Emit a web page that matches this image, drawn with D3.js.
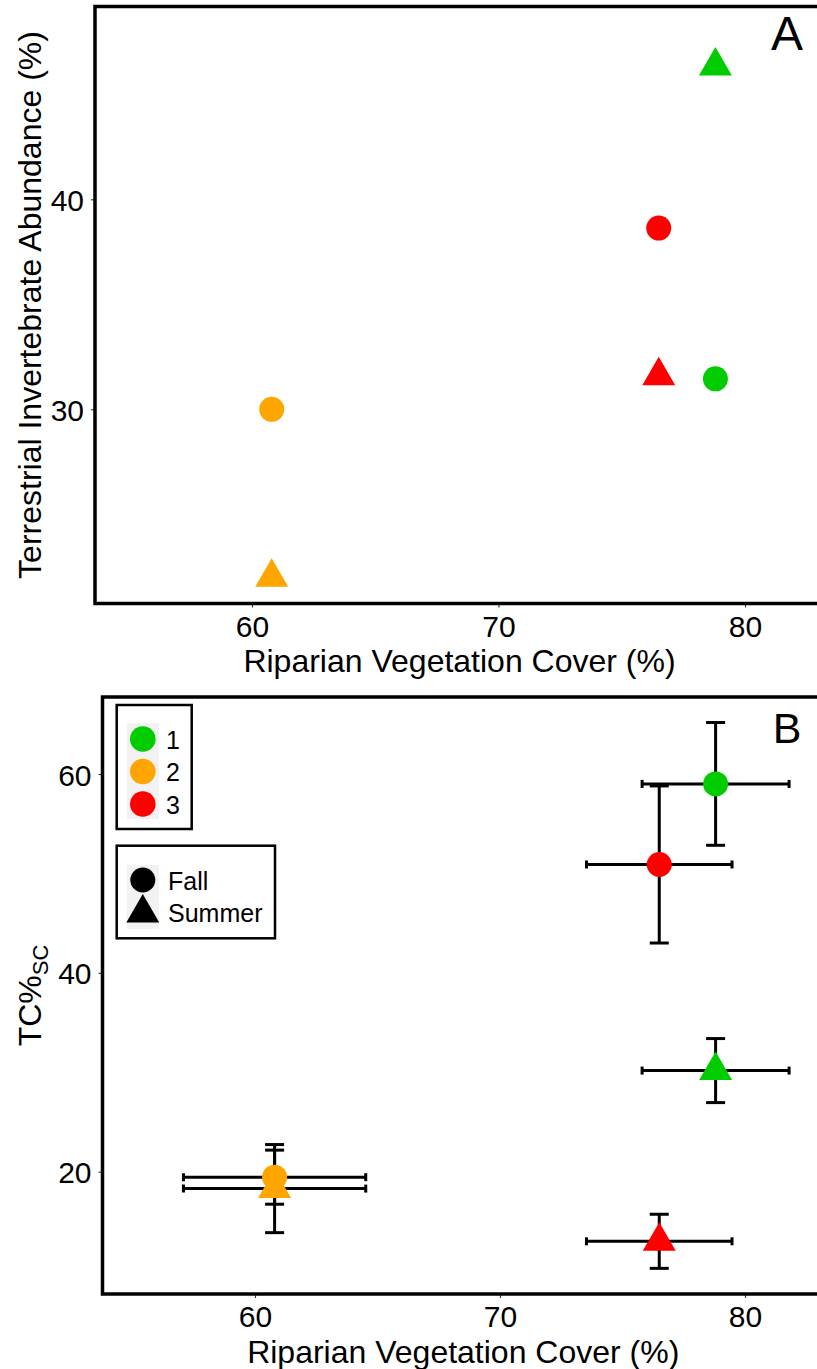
<!DOCTYPE html>
<html>
<head>
<meta charset="utf-8">
<script src="https://cdn.jsdelivr.net/npm/d3@7"></script>
<style>
  html, body { margin: 0; padding: 0; background: #fff; }
  svg { display: block; }
  text { font-family: "Liberation Sans", Arial, sans-serif; }
</style>
</head>
<body>
<script>
// ---------- data ----------
const sites = ["1", "2", "3"];
const siteColors = ["#00CC00", "#FFA500", "#FF0000"];
const seasons = ["Fall", "Summer"];

const pointSite   = ["1", "1", "2", "2", "3", "3"];
const pointSeason = ["Fall", "Summer", "Fall", "Summer", "Fall", "Summer"];
const vegCover    = [78.8, 78.8, 60.8, 60.8, 76.5, 76.5];
const vegCoverSD  = [3.0, 3.0, 3.72, 3.72, 2.97, 2.97];

// Panel A: terrestrial invertebrate abundance (%)
const terrAbund = [31.45, 46.35, 30.0, 22.0, 38.63, 31.6];

// Panel B: TC%SC with SD
const tcSC   = [59.0, 30.17, 19.45, 18.3, 50.9, 13.0];
const tcSCSD = [6.17, 3.22, 2.72, 4.43, 7.9, 2.72];

const xTicks = [60, 70, 80];
const yTicksA = [30, 40];
const yTicksB = [20, 40, 60];

// ---------- setup ----------
const W = 817, H = 1369;
const svg = d3.select("body").append("svg").attr("width", W).attr("height", H);
svg.append("rect").attr("width", W).attr("height", H).attr("fill", "#fff");

const color = d3.scaleOrdinal().domain(sites).range(siteColors);
const triPath = d3.symbol().type(d3.symbolTriangle).size(470)();
const font = "Liberation Sans, Arial, sans-serif";

const rows = pointSite.map((s, i) => ({
  site: s, season: pointSeason[i], veg: vegCover[i], vegSD: vegCoverSD[i],
  abund: terrAbund[i], tc: tcSC[i], tcSD: tcSCSD[i]
}));

function drawPanel(cfg) {
  const g = svg.append("g");
  const x = d3.scaleLinear().domain([60, 80]).range(cfg.xRange);
  const y = d3.scaleLinear().domain(cfg.yDomain).range(cfg.yRange);
  const left = cfg.left, top = cfg.top, bottom = cfg.bottom, right = 840;

  // axes
  const ax = g.append("g").attr("transform", `translate(0,${bottom})`)
    .call(d3.axisBottom(x).tickValues(xTicks).tickSize(4).tickPadding(8));
  const ay = g.append("g").attr("transform", `translate(${left},0)`)
    .call(d3.axisLeft(y).tickValues(cfg.yTicks).tickSize(4).tickPadding(7));
  [ax, ay].forEach(a => {
    a.select(".domain").remove();
    a.selectAll(".tick line").attr("stroke", "#333").attr("stroke-width", 1.1);
    a.selectAll(".tick text").attr("fill", "#000").attr("font-size", 30).attr("font-family", font);
  });
  ay.selectAll(".tick text").attr("dy", "0.37em");

  // clip
  const clipId = "clip" + cfg.name;
  svg.append("clipPath").attr("id", clipId).append("rect")
    .attr("x", left).attr("y", top).attr("width", right - left).attr("height", bottom - top);
  const plot = g.append("g").attr("clip-path", `url(#${clipId})`);

  if (cfg.errors) {
    const eb = plot.append("g").attr("stroke", "#000").attr("stroke-width", 3).attr("fill", "none");
    rows.forEach(d => {
      const cx = x(d.veg), cy = y(cfg.yv(d));
      const y0 = y(d.tc - d.tcSD), y1 = y(d.tc + d.tcSD);
      const x0 = x(d.veg - d.vegSD), x1 = x(d.veg + d.vegSD);
      eb.append("line").attr("x1", cx).attr("x2", cx).attr("y1", y0).attr("y2", y1);
      eb.append("line").attr("x1", cx - 9.5).attr("x2", cx + 9.5).attr("y1", y0).attr("y2", y0);
      eb.append("line").attr("x1", cx - 9.5).attr("x2", cx + 9.5).attr("y1", y1).attr("y2", y1);
      eb.append("line").attr("x1", x0).attr("x2", x1).attr("y1", cy).attr("y2", cy);
      eb.append("line").attr("x1", x0).attr("x2", x0).attr("y1", cy - 4).attr("y2", cy + 4);
      eb.append("line").attr("x1", x1).attr("x2", x1).attr("y1", cy - 4).attr("y2", cy + 4);
    });
  }

  // points
  rows.forEach(d => {
    const cx = x(d.veg), cy = y(cfg.yv(d));
    if (d.season === "Fall") {
      plot.append("circle").attr("cx", cx).attr("cy", cy).attr("r", 12.5).attr("fill", color(d.site));
    } else {
      plot.append("path").attr("d", triPath).attr("transform", `translate(${cx},${cy})`).attr("fill", color(d.site));
    }
  });

  // border
  g.append("rect").attr("x", left).attr("y", top).attr("width", right - left).attr("height", bottom - top)
    .attr("fill", "none").attr("stroke", "#000").attr("stroke-width", 3.5);

  // panel letter
  g.append("text").attr("x", 787).attr("y", cfg.letterY).attr("text-anchor", "middle")
    .attr("font-size", cfg.letterSize).attr("fill", "#000").text(cfg.name);

  // x title
  g.append("text").attr("x", (left + 824) / 2).attr("y", bottom + 68.5).attr("text-anchor", "middle")
    .attr("font-size", 32).attr("fill", "#000").text("Riparian Vegetation Cover (%)");

  // y title
  const yt = g.append("text").attr("transform", `translate(41,${(top + bottom) / 2}) rotate(-90)`)
    .attr("text-anchor", "middle").attr("font-size", 32).attr("fill", "#000");
  cfg.yTitle(yt);
  return { x, y };
}

drawPanel({
  name: "A", left: 95, top: 6.5, bottom: 603.5,
  xRange: [252, 745], yDomain: [30, 40], yRange: [409.3, 199.3], yTicks: yTicksA,
  yv: d => d.abund, errors: false, letterY: 50, letterSize: 48,
  yTitle: t => t.text("Terrestrial Invertebrate Abundance (%)")
});

drawPanel({
  name: "B", left: 102.5, top: 697, bottom: 1294,
  xRange: [255, 745], yDomain: [20, 60], yRange: [1171.7, 774], yTicks: yTicksB,
  yv: d => d.tc, errors: true, letterY: 743, letterSize: 43,
  yTitle: t => {
    t.append("tspan").text("TC%");
    t.append("tspan").attr("font-size", 22).attr("dy", 7).text("SC");
  }
});

// ---------- legends (panel B) ----------
const leg1 = svg.append("g");
leg1.append("rect").attr("x", 116.7).attr("y", 705).attr("width", 75).attr("height", 124)
  .attr("fill", "#fff").attr("stroke", "#000").attr("stroke-width", 2.5);
leg1.append("rect").attr("x", 126.7).attr("y", 723).attr("width", 32.3).attr("height", 96).attr("fill", "#F2F2F2");
sites.forEach((s, i) => {
  const cy = 739 + i * 32.5;
  leg1.append("circle").attr("cx", 142.8).attr("cy", cy).attr("r", 12.8).attr("fill", color(s));
  leg1.append("text").attr("x", 166).attr("y", cy + 9.5).attr("font-size", 25).attr("fill", "#000").text(s);
});

const leg2 = svg.append("g");
leg2.append("rect").attr("x", 116.7).attr("y", 845.7).attr("width", 158.3).attr("height", 92.6)
  .attr("fill", "#fff").attr("stroke", "#000").attr("stroke-width", 2.5);
leg2.append("rect").attr("x", 126.7).attr("y", 865).attr("width", 32.3).attr("height", 64).attr("fill", "#F2F2F2");
seasons.forEach((s, i) => {
  const cy = 880 + i * 32;
  if (s === "Fall") {
    leg2.append("circle").attr("cx", 142.8).attr("cy", cy).attr("r", 12.5).attr("fill", "#000");
  } else {
    leg2.append("path").attr("d", triPath).attr("transform", `translate(142.8,${cy + 1})`).attr("fill", "#000");
  }
  leg2.append("text").attr("x", 168).attr("y", cy + 9.5).attr("font-size", 25).attr("fill", "#000").text(s);
});
</script>
</body>
</html>
